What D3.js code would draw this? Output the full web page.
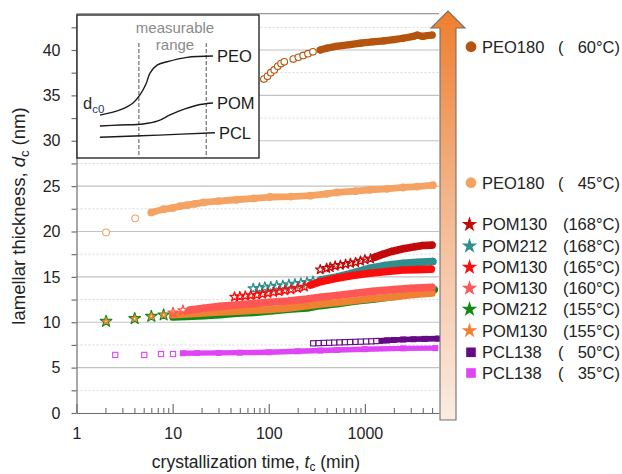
<!DOCTYPE html>
<html>
<head>
<meta charset="utf-8">
<script src="https://cdn.jsdelivr.net/npm/d3@7"></script>
<style>
  body { margin: 0; background: #fff; }
  svg { font-family: "Liberation Sans", Arial, sans-serif; }
</style>
</head>
<body>
<svg id="chart" width="622" height="474"></svg>
<script>
// ---- axis ticks ----
const xMajorTicks = [1, 10, 100, 1000];
const yLabelTicks = [0, 5, 10, 15, 20, 25, 30, 35, 40];

// ---- series: [crystallization time (min), lamellar thickness (nm)] ----
// open markers = early points, filled = later dense points
const peo60Open = [[89,36.8],[97,37.1],[105,37.5],[114,37.8],[124,38.2],[134,38.5],[145,38.7],[180,39.0],[203,39.2],[228,39.4],[256,39.6],[288,39.8]];
const peo60Filled = [[343,40.0],[400,40.2],[500,40.4],[700,40.6],[900,40.75],[1200,40.9],[1560,41.0],[2000,41.15],[2500,41.3],[3200,41.5],[3500,41.65],[4000,41.5],[4500,41.6],[5000,41.65]];

const peo45Open = [[2.03,19.9],[4.08,21.45]];
const peo45Filled = [[6.0,22.1],[8.06,22.45],[10.05,22.6],[12.0,22.8],[14.1,22.9],[17,23.05],[21,23.2],[30,23.35],[46,23.5],[70,23.65],[103,23.8],[170,23.85],[270,23.95],[400,24.15],[510,24.3],[800,24.45],[1130,24.6],[1700,24.7],[2500,24.85],[3500,24.95],[5100,25.1]];

const pom130_168Open = [[343,15.8],[400,15.95],[436,16.05],[490,16.2],[556,16.3],[630,16.4],[707,16.5],[800,16.6],[900,16.75],[1000,16.9],[1146,17.0]];
const pom130_168Filled = [[1250,17.15],[1500,17.45],[1900,17.8],[2500,18.1],[3200,18.3],[4000,18.45],[5000,18.5]];

const pom212_168Open = [[69,13.7],[80,13.75],[91,13.85],[105,13.9],[121,14.0],[140,14.05],[162,14.15],[187,14.2],[216,14.3],[250,14.4],[289,14.5]];
const pom212_168Filled = [[343,14.65],[510,15.0],[700,15.35],[1125,15.95],[1600,16.25],[2500,16.5],[3500,16.6],[5100,16.7]];

const pom130_165Open = [[44,12.8],[50,12.85],[57,12.9],[65,12.95],[75,13.0],[86,13.1],[98,13.2],[112,13.3],[128,13.4],[147,13.5],[170,13.6],[200,13.75],[235,13.9]];
const pom130_165Filled = [[270,14.1],[343,14.45],[510,14.85],[750,15.15],[1125,15.4],[1700,15.6],[2500,15.75],[3500,15.8],[4900,15.85]];

const pom130_160Open = [[10.1,11.05],[12.8,11.3]];
const pom130_160Filled = [[15,11.35],[21,11.55],[31,11.75],[45,11.9],[70,12.05],[103,12.2],[160,12.35],[250,12.55],[343,12.75],[510,12.95],[800,13.2],[1200,13.4],[2000,13.6],[3000,13.75],[5000,13.85]];

const pom212_155Open = [[2.03,10.1],[4.03,10.4],[6.0,10.65],[8.06,10.8]];
const pom212_155Filled = [[10,10.55],[14,10.6],[21,10.7],[31,10.8],[46,10.95],[70,11.05],[103,11.2],[160,11.4],[250,11.55],[343,11.8],[510,12.0],[800,12.3],[1200,12.5],[2000,12.8],[3000,13.1],[5300,13.6]];

const pom130_155Open = [[2.03,10.1],[4.03,10.4],[6.0,10.65],[8.06,10.8]];
const pom130_155Filled = [[10,10.8],[14,10.9],[21,11.0],[31,11.1],[46,11.2],[70,11.3],[103,11.4],[160,11.55],[250,11.8],[343,12.0],[510,12.15],[800,12.4],[1200,12.6],[2000,12.8],[3000,13.0],[5000,13.2]];

const pcl50Open = [[290,7.68],[330,7.7],[375,7.72],[425,7.74],[480,7.76],[545,7.78],[620,7.8],[700,7.82],[800,7.84],[905,7.86],[1030,7.88],[1170,7.9],[1316,7.93]];
const pcl50Filled = [[1450,7.95],[1700,8.0],[2000,8.05],[2500,8.1],[3200,8.13],[4200,8.17],[5800,8.2]];

const pcl35Open = [[2.53,6.4],[5.07,6.4],[7.57,6.5],[10.1,6.5]];
const pcl35Filled = [[12.8,6.58],[18,6.6],[30,6.62],[50,6.65],[100,6.69],[200,6.8],[343,6.88],[510,6.94],[1000,7.03],[2500,7.12],[5400,7.15]];

// ---- legend ----
const legendNames = ["PEO180", "PEO180", "POM130", "POM212", "POM130", "POM130", "POM212", "POM130", "PCL138", "PCL138"];
const legendTemps = ["60", "45", "168", "168", "165", "160", "155", "155", "50", "35"];

// ---- inset schematic (normalized coordinates) ----
const insetPEO = [[0.126,0.30],[0.236,0.336],[0.308,0.385],[0.346,0.441],[0.379,0.517],[0.401,0.594],[0.44,0.65],[0.495,0.673],[0.604,0.704],[0.747,0.713]];
const insetPOM = [[0.126,0.224],[0.236,0.231],[0.363,0.238],[0.445,0.259],[0.511,0.301],[0.593,0.343],[0.676,0.374],[0.747,0.385]];
const insetPCL = [[0.126,0.145],[0.45,0.160],[0.758,0.177]];
const insetRange = [0.34, 0.71];
const insetLabels = ["PEO", "POM", "PCL"];

// ---- colors ----
const colors = {
  peo60: "#b5540e", peo45: "#f4a363",
  pom130_168: "#c20a0a", pom212_168: "#2f8f8f", pom130_165: "#fa0d0d",
  pom130_160: "#ff5656", pom212_155: "#138a13", pom130_155: "#ef8133",
  pcl50: "#650a85", pcl35: "#df44f5"
};

const series = [
  {key: "peo60", open: peo60Open, filled: peo60Filled, shape: "circle", openR: 3.3, fillR: 3.6, band: 7.2},
  {key: "peo45", open: peo45Open, filled: peo45Filled, shape: "circle", openR: 3.4, fillR: 3.9, band: 6.8},
  {key: "pom212_168", open: pom212_168Open, filled: pom212_168Filled, shape: "star", openR: 5.4, fillR: 4.6, band: 7.6},
  {key: "pom130_168", open: pom130_168Open, filled: pom130_168Filled, shape: "star", openR: 5.0, fillR: 4.6, band: 7.6},
  {key: "pom130_165", open: pom130_165Open, filled: pom130_165Filled, shape: "star", openR: 5.0, fillR: 4.6, band: 7.6},
  {key: "pom212_155", open: pom212_155Open, filled: pom212_155Filled, shape: "star", openR: 6.0, fillR: 4.4, band: 7.0},
  {key: "pom130_155", open: pom130_155Open, filled: pom130_155Filled, shape: "star", openR: 3.4, fillR: 4.4, band: 7.2},
  {key: "pom130_160", open: pom130_160Open, filled: pom130_160Filled, shape: "star", openR: 5.4, fillR: 4.6, band: 7.6},
  {key: "pcl50", open: pcl50Open, filled: pcl50Filled, shape: "square", openR: 2.6, fillR: 3.0, band: 5.6},
  {key: "pcl35", open: pcl35Open, filled: pcl35Filled, shape: "square", openR: 2.6, fillR: 3.0, band: 5.4}
];
const legendOrder = ["peo60", "peo45", "pom130_168", "pom212_168", "pom130_165", "pom130_160", "pom212_155", "pom130_155", "pcl50", "pcl35"];
const legendShapes = ["circle", "circle", "star", "star", "star", "star", "star", "star", "square", "square"];

// ---- layout ----
const svg = d3.select("#chart");
const plotLeft = 76.5, plotRight = 439, plotBottom = 413, plotTop = 13.7;
const x = d3.scaleLog().domain([1, 5900]).range([plotLeft, plotRight]);
const y = d3.scaleLinear().domain([0, 44]).range([plotBottom, plotTop]);

// gridlines: solid every 5, dashed halfway between
svg.append("g").selectAll("line")
  .data(d3.range(2.5, 44, 2.5))
  .join("line")
  .attr("x1", plotLeft).attr("x2", plotRight)
  .attr("y1", d => y(d)).attr("y2", d => y(d))
  .attr("stroke", d => d % 5 === 0 ? "#c2c2c2" : "#d9d9d9")
  .attr("stroke-width", d => d % 5 === 0 ? 1.2 : 1)
  .attr("stroke-dasharray", d => d % 5 === 0 ? null : "2,2");

// top border of the plot frame
svg.append("line")
  .attr("x1", plotLeft).attr("x2", plotRight)
  .attr("y1", y(44)).attr("y2", y(44))
  .attr("stroke", "#9a9a9a").attr("stroke-width", 1.2);

// ---- marker helpers ----
const starPath = r => d3.symbol(d3.symbolStar, r * r / 0.8908130915292852)();

function drawMarker(g, shape, cx, cy, r, color, filled, sw) {
  if (shape === "circle") {
    g.append("circle").attr("cx", cx).attr("cy", cy).attr("r", r)
      .attr("fill", filled ? color : "#fff").attr("stroke", color).attr("stroke-width", filled ? 0 : sw);
  } else if (shape === "square") {
    g.append("rect").attr("x", cx - r).attr("y", cy - r).attr("width", 2 * r).attr("height", 2 * r)
      .attr("fill", filled ? color : "#fff").attr("stroke", color).attr("stroke-width", filled ? 0 : sw);
  } else {
    g.append("path").attr("d", starPath(r)).attr("transform", `translate(${cx},${cy})`)
      .attr("fill", filled ? color : "none").attr("stroke", color)
      .attr("stroke-width", filled ? 0 : sw).attr("stroke-linejoin", "round");
  }
}

// ---- series ----
const line = d3.line().x(d => x(d[0])).y(d => y(d[1]));
const dataG = svg.append("g");
series.forEach(s => {
  const g = dataG.append("g");
  const c = colors[s.key];
  g.append("path").attr("d", line(s.filled))
    .attr("fill", "none").attr("stroke", c).attr("stroke-width", s.band)
    .attr("stroke-linecap", "round").attr("stroke-linejoin", "round");
  s.filled.forEach(p => drawMarker(g, s.shape, x(p[0]), y(p[1]), s.fillR, c, true, 0));
  s.open.forEach(p => drawMarker(g, s.shape, x(p[0]), y(p[1]), s.openR, c, false, s.shape === "star" ? 1.3 : 1.1));
});

// ---- axes ----
const axisColor = "#6e6e6e";
const yAxis = svg.append("g").attr("transform", `translate(${plotLeft},0)`)
  .call(d3.axisLeft(y).tickValues(d3.range(0, 42.6, 2.5)).tickSize(5).tickSizeOuter(0).tickPadding(11)
    .tickFormat(d => yLabelTicks.includes(d) ? d : ""));
yAxis.selectAll("path,line").attr("stroke", axisColor).attr("stroke-width", 1.2);
yAxis.selectAll("text").attr("font-size", 16).attr("fill", "#222")
  .attr("font-family", "'Liberation Sans', Arial, sans-serif");

const minorTicks = [];
xMajorTicks.forEach(m => d3.range(2, 10).forEach(k => { if (m * k <= 5900) minorTicks.push(m * k); }));
const xMinor = svg.append("g").attr("transform", `translate(0,${plotBottom})`)
  .call(d3.axisBottom(x).tickValues(minorTicks).tickSizeInner(-5).tickSizeOuter(0).tickFormat(""));
xMinor.select(".domain").remove();
xMinor.selectAll("line").attr("stroke", axisColor).attr("stroke-width", 1.1);

const xAxis = svg.append("g").attr("transform", `translate(0,${plotBottom})`)
  .call(d3.axisBottom(x).tickValues(xMajorTicks).tickSizeInner(-9).tickSizeOuter(0).tickPadding(15)
    .tickFormat(d3.format("d")));
xAxis.selectAll("path,line").attr("stroke", axisColor).attr("stroke-width", 1.2);
xAxis.selectAll("text").attr("font-size", 16).attr("fill", "#222")
  .attr("font-family", "'Liberation Sans', Arial, sans-serif");

// axis titles
const xTitle = svg.append("text").attr("x", 256).attr("y", 468).attr("text-anchor", "middle")
  .attr("font-size", 17.5).attr("fill", "#222");
xTitle.append("tspan").text("crystallization time, ");
xTitle.append("tspan").attr("font-style", "italic").text("t");
xTitle.append("tspan").attr("font-size", 12).attr("dy", 3).text("c");
xTitle.append("tspan").attr("dy", -3).text(" (min)");

const yTitle = svg.append("text").attr("transform", "translate(25,216) rotate(-90)")
  .attr("text-anchor", "middle").attr("font-size", 18.5).attr("fill", "#222");
yTitle.append("tspan").text("lamellar thickness, ");
yTitle.append("tspan").attr("font-style", "italic").text("d");
yTitle.append("tspan").attr("font-size", 13).attr("dy", 4).text("c");
yTitle.append("tspan").attr("dy", -4).text(" (nm)");

// ---- arrow ----
const defs = svg.append("defs");
const grad = defs.append("linearGradient").attr("id", "arrowGrad")
  .attr("x1", 0).attr("y1", 0).attr("x2", 0).attr("y2", 1);
grad.append("stop").attr("offset", "0%").attr("stop-color", "#ee7f2e");
grad.append("stop").attr("offset", "45%").attr("stop-color", "#f3b48a");
grad.append("stop").attr("offset", "100%").attr("stop-color", "#fbece3");
const ax = 448, shaftHalf = 8, headHalf = 17, tipY = 11, headBase = 28, arrowBottom = 420;
svg.append("path")
  .attr("d", `M${ax - shaftHalf},${arrowBottom} L${ax - shaftHalf},${headBase} L${ax - headHalf},${headBase} L${ax},${tipY} L${ax + headHalf},${headBase} L${ax + shaftHalf},${headBase} L${ax + shaftHalf},${arrowBottom} Z`)
  .attr("fill", "url(#arrowGrad)").attr("stroke", "#707070").attr("stroke-width", 1.1);

// ---- legend ----
const legG = svg.append("g");
const legendY = [46.7, 182.7, 224.5, 246, 267.3, 288.3, 309.3, 330.7, 352.3, 373];
legendOrder.forEach((k, i) => {
  const cy = legendY[i];
  const shape = legendShapes[i];
  const r = shape === "circle" ? 5.4 : shape === "square" ? 4.8 : 8.2;
  drawMarker(legG, shape, shape === "star" ? 469.5 : 471, cy, r, colors[k], true, 0);
  legG.append("text").attr("x", 482).attr("y", cy).attr("dy", "0.36em")
    .attr("font-size", 16.5).attr("fill", "#222").text(legendNames[i]);
  const t = legendTemps[i];
  if (t.length < 3) {
    // two-digit temperatures keep the bracket in the same column as the others
    legG.append("text").attr("x", 558).attr("y", cy).attr("dy", "0.36em")
      .attr("font-size", 16.5).attr("fill", "#222").text("(");
    legG.append("text").attr("x", 620).attr("y", cy).attr("dy", "0.36em").attr("text-anchor", "end")
      .attr("font-size", 16.5).attr("fill", "#222").text(t + "°C)");
  } else {
    legG.append("text").attr("x", 620).attr("y", cy).attr("dy", "0.36em").attr("text-anchor", "end")
      .attr("font-size", 16.5).attr("fill", "#222").text("(" + t + "°C)");
  }
});

// ---- inset schematic ----
const inset = { left: 77, right: 259, top: 15, bottom: 158 };
const ix = d3.scaleLinear().domain([0, 1]).range([inset.left, inset.right]);
const iy = d3.scaleLinear().domain([0, 1]).range([inset.bottom, inset.top]);
const insetG = svg.append("g");
insetG.append("rect").attr("x", inset.left).attr("y", inset.top)
  .attr("width", inset.right - inset.left).attr("height", inset.bottom - inset.top)
  .attr("fill", "#fff").attr("stroke", "#1a1a1a").attr("stroke-width", 1.3);
insetRange.forEach(u => {
  insetG.append("line").attr("x1", ix(u)).attr("x2", ix(u)).attr("y1", 43).attr("y2", inset.bottom)
    .attr("stroke", "#555").attr("stroke-width", 1).attr("stroke-dasharray", "4,2");
});
insetG.append("text").attr("x", 175).attr("y", 33).attr("text-anchor", "middle")
  .attr("font-size", 15).attr("fill", "#8a8a8a").text("measurable");
insetG.append("text").attr("x", 175).attr("y", 50).attr("text-anchor", "middle")
  .attr("font-size", 15).attr("fill", "#8a8a8a").text("range");
const iLine = d3.line().x(d => ix(d[0])).y(d => iy(d[1])).curve(d3.curveCatmullRom.alpha(0.5));
[insetPEO, insetPOM, insetPCL].forEach((pts, i) => {
  insetG.append("path").attr("d", iLine(pts)).attr("fill", "none")
    .attr("stroke", "#1a1a1a").attr("stroke-width", 1.4);
  const last = pts[pts.length - 1];
  insetG.append("text").attr("x", ix(last[0]) + 4).attr("y", iy(last[1])).attr("dy", "0.36em")
    .attr("font-size", 16.5).attr("fill", "#1a1a1a").text(insetLabels[i]);
});
const dc0 = insetG.append("text").attr("x", 83).attr("y", 109).attr("font-size", 16.5).attr("fill", "#2a2a2a");
dc0.append("tspan").text("d");
dc0.append("tspan").attr("font-size", 11.5).attr("dy", 4).attr("fill", "#243a6b").text("c0");
</script>
</body>
</html>
